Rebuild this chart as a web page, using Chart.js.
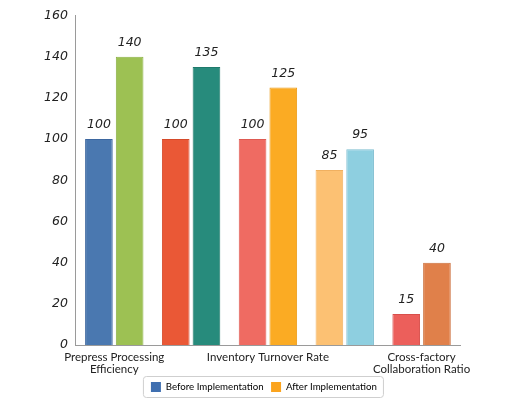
<!DOCTYPE html>
<html>
<head>
<meta charset="utf-8">
<script src="https://cdn.jsdelivr.net/npm/chart.js@4.4.0/dist/chart.umd.min.js"></script>
<style>
  html, body { margin: 0; padding: 0; background: #fff; }
  #wrap { width: 520px; height: 406px; }
</style>
</head>
<body>
<div id="wrap"><canvas id="chart"></canvas></div>
<script>
// data
const categories = [
  ["Prepress Processing", "Efficiency"],
  "Plate Making Accuracy",
  "Inventory Turnover Rate",
  "Order Delivery Speed",
  ["Cross-factory", "Collaboration Ratio"]
];
const beforeValues = [100, 100, 100, 85, 15];
const afterValues = [140, 135, 125, 95, 40];
const yTicks = [0, 20, 40, 60, 80, 100, 120, 140, 160];

const beforeColors = ["#4a78b0", "#ea5836", "#ef6b62", "#fcc173", "#ec5f5b"];
const afterColors = ["#9dc153", "#278b7c", "#fbab23", "#8ecfe0", "#e0804a"];
const beforeBorders = ["#3d67a0", "#d54a2a", "#de5a52", "#f0b060", "#d84f4b"];
const afterBorders = ["#8ab043", "#1f7a6c", "#eb9a15", "#7dbdd0", "#cc6e3a"];

var handFont = "'DejaVu Sans', sans-serif";

// numbers over bars
const valueLabels = {
  id: "valueLabels",
  afterDatasetsDraw(chart) {
    var ctx = chart.ctx;
    ctx.save();
    ctx.font = "italic 12.5px " + handFont;
    ctx.fillStyle = "#222";
    ctx.textAlign = "center";
    ctx.textBaseline = "bottom";
    chart.data.datasets.forEach(function (ds, i) {
      chart.getDatasetMeta(i).data.forEach(function (bar, j) {
        ctx.fillText(ds.data[j], bar.x, bar.y - 8);
      });
    });
    ctx.restore();
  }
};

// legend sits under the plot area in the original, and has a frame
const legendFrame = {
  id: "legendFrame",
  afterLayout(chart) {
    var lg = chart.legend;
    var shift = (chart.chartArea.left + chart.chartArea.right) / 2 - (lg.left + lg.right) / 2 - 4;
    lg.left += shift;
    lg.right += shift;
  },
  afterDraw(chart) {
    var boxes = chart.legend.legendHitBoxes;
    if (!boxes || !boxes.length) return;
    var l = Math.min.apply(null, boxes.map(b => b.left)) - 8;
    var r = Math.max.apply(null, boxes.map(b => b.left + b.width)) + 6;
    var t = boxes[0].top - 6;
    var b = boxes[0].top + boxes[0].height + 5;
    var ctx = chart.ctx;
    ctx.save();
    ctx.strokeStyle = "#cfcfcf";
    ctx.lineWidth = 1;
    ctx.beginPath();
    ctx.roundRect(l + 0.5, t + 0.5, r - l, b - t, 3);
    ctx.stroke();
    ctx.restore();
  }
};

new Chart(document.getElementById("chart"), {
  type: "bar",
  data: {
    labels: categories,
    datasets: [
      {
        label: "Before Implementation",
        data: beforeValues,
        backgroundColor: beforeColors,
        borderColor: beforeBorders,
        borderWidth: 1
      },
      {
        label: "After Implementation",
        data: afterValues,
        backgroundColor: afterColors,
        borderColor: afterBorders,
        borderWidth: 1
      }
    ]
  },
  options: {
    responsive: true,
    maintainAspectRatio: false,
    animation: false,
    layout: { padding: { left: 36, right: 60, top: 8, bottom: 4 } },
    scales: {
      x: {
        grid: { display: false, drawTicks: false },
        border: { color: "#9a9a9a" },
        categoryPercentage: 0.86,
        barPercentage: 0.93,
        ticks: {
          autoSkip: false,
          maxRotation: 0,
          color: "#222",
          font: { size: 11.5, family: "Lato, sans-serif", lineHeight: 1.0 },
          padding: 7,
          callback: function (v, i) {
            return i % 2 === 0 ? this.getLabelForValue(v) : "";
          }
        }
      },
      y: {
        min: 0,
        max: 160,
        grid: { display: false, drawTicks: false },
        border: { color: "#9a9a9a" },
        afterBuildTicks: function (axis) {
          axis.ticks = yTicks.map(v => ({ value: v }));
        },
        ticks: {
          color: "#222",
          padding: 8,
          font: { size: 12.5, style: "italic", family: handFont }
        }
      }
    },
    plugins: {
      legend: {
        position: "bottom",
        labels: {
          boxWidth: 10,
          boxHeight: 10,
          padding: 0,
          color: "#222",
          font: { size: 9.7, family: "Lato, sans-serif" },
          generateLabels: function (chart) {
            var swatch = ["#3f6fb0", "#fba41e"];
            return chart.data.datasets.map(function (ds, i) {
              return {
                // a little room between the two entries, since padding is 0
                text: i === 0 ? ds.label + "   " : ds.label,
                fillStyle: swatch[i],
                strokeStyle: swatch[i],
                lineWidth: 0,
                datasetIndex: i
              };
            });
          }
        }
      },
      tooltip: { enabled: false }
    }
  },
  plugins: [valueLabels, legendFrame]
});
</script>
</body>
</html>
